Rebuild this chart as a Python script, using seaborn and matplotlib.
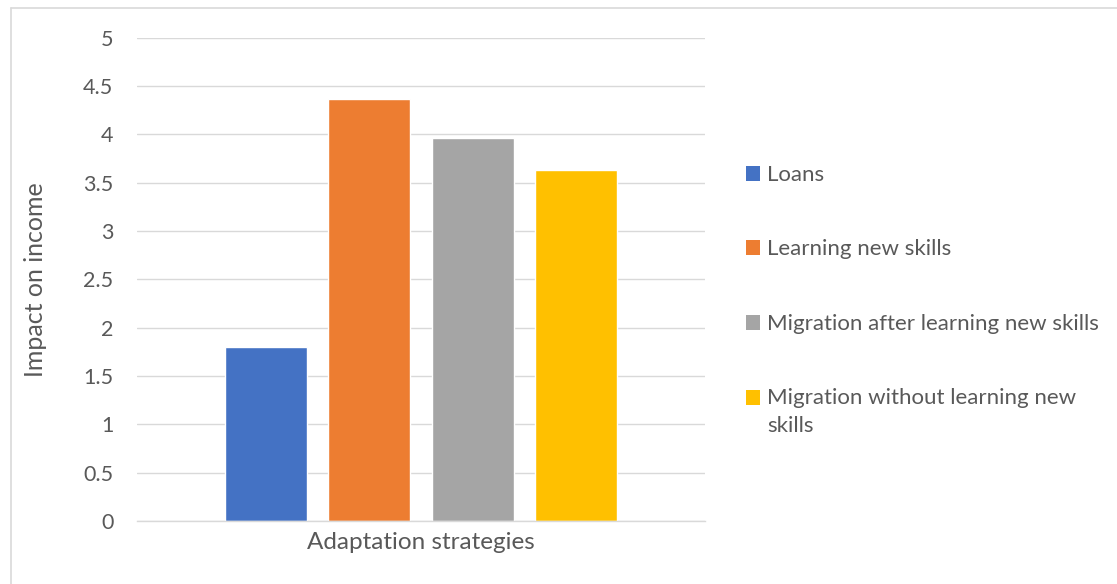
import matplotlib
matplotlib.use("Agg")
import matplotlib.pyplot as plt
import seaborn as sns
import pandas as pd
from matplotlib.patches import Patch, Rectangle
from matplotlib.lines import Line2D
from matplotlib.legend_handler import HandlerPatch

# Data
group = "Adaptation strategies"
strategies = ["Loans", "Learning new skills",
              "Migration after learning new skills",
              "Migration without learning new skills"]
impact = [1.80, 4.36, 3.96, 3.63]
colors = ["#4472C4", "#ED7D31", "#A5A5A5", "#FFC000"]
yticks = [0, 0.5, 1, 1.5, 2, 2.5, 3, 3.5, 4, 4.5, 5]
legend_labels = ["Loans", "Learning new skills",
                 "Migration after learning new skills",
                 "Migration without learning new\nskills"]

df = pd.DataFrame({"group": [group] * len(strategies),
                   "strategy": strategies,
                   "impact": impact})

sns.set_theme(style="white")
plt.rcParams["font.family"] = ["Lato", "DejaVu Sans"]
text_color = "#595959"

W, H = 1117, 584
fig = plt.figure(figsize=(W / 100, H / 100), dpi=100)
ax = fig.add_axes([137 / W, (H - 521) / H, (705 - 137) / W, (521 - 37.5) / H])

sns.barplot(data=df, x="group", y="impact", hue="strategy",
            hue_order=strategies, palette=colors, saturation=1,
            width=0.727, gap=0.206, legend=False, ax=ax)

ax.set_xlim(-0.5, 0.5)
ax.set_ylim(0, 5)
ax.set_yticks(yticks)
ax.set_yticklabels([f"{t:g}" for t in yticks])
ax.yaxis.grid(True, color="#D9D9D9", linewidth=1.0)
ax.set_axisbelow(True)
for s in ["top", "right", "left"]:
    ax.spines[s].set_visible(False)
ax.spines["bottom"].set_color("#D9D9D9")
ax.spines["bottom"].set_linewidth(1.0)
ax.tick_params(axis="y", length=0, colors=text_color, labelsize=15.5, pad=17)
ax.tick_params(axis="x", length=0, colors=text_color, labelsize=17.5, pad=8)
ax.set_xlabel("")
ax.set_ylabel("Impact on income", fontsize=18, color=text_color)
ax.yaxis.set_label_coords((47 - 137) / (705 - 137), 0.5)


def top_line_square(legend, orig_handle, xdescent, ydescent, width, height, fontsize):
    # keep the swatch level with the first line of a wrapped label
    return Rectangle((-xdescent, -ydescent + 10.5), width, height)


handles = [Patch(facecolor=c, edgecolor="none") for c in colors]
leg = fig.legend(handles, legend_labels, loc="upper left",
                 bbox_to_anchor=(726 / W, 1 - 145 / H), frameon=False,
                 fontsize=16, labelcolor=text_color,
                 handlelength=0.65, handleheight=0.65, handletextpad=0.3,
                 labelspacing=2.45,
                 handler_map={handles[3]: HandlerPatch(patch_func=top_line_square)})
for t in leg.get_texts():
    t.set_linespacing(1.45)

# Outer chart border (top and left edges visible)
fig.add_artist(Line2D([11 / W, 1.0], [1 - 8 / H, 1 - 8 / H],
                      transform=fig.transFigure, color="#D9D9D9", linewidth=1.2))
fig.add_artist(Line2D([11 / W, 11 / W], [0.0, 1 - 8 / H],
                      transform=fig.transFigure, color="#D9D9D9", linewidth=1.2))

fig.savefig("out.png", dpi=100, facecolor="white")
